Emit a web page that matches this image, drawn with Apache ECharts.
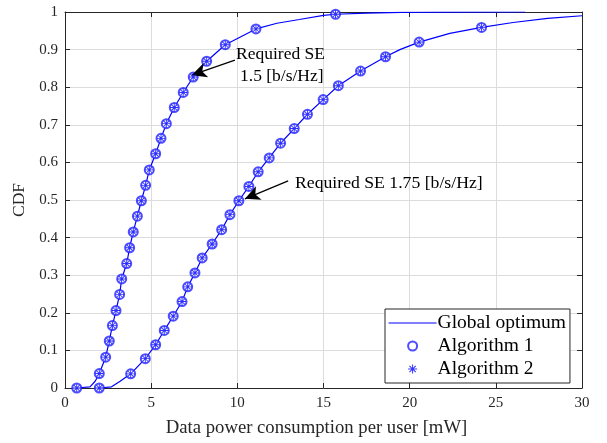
<!DOCTYPE html>
<html>
<head>
<meta charset="utf-8">
<script src="https://cdn.jsdelivr.net/npm/echarts@6/dist/echarts.min.js"></script>
<style>
  html, body { margin: 0; padding: 0; background: #fff; }
  #chart { width: 607px; height: 443px; }
</style>
</head>
<body>
<div id="chart"></div>
<script>
// Axis ticks
const xTicks = [0, 5, 10, 15, 20, 25, 30];
const yTicks = [0, 0.1, 0.2, 0.3, 0.4, 0.5, 0.6, 0.7, 0.8, 0.9, 1];

// Required SE 1.5 b/s/Hz: sampled CDF points (power in mW, CDF)
const se15Power = [0.68, 1.99, 2.36, 2.57, 2.75, 2.96, 3.17, 3.29, 3.58, 3.75, 3.96, 4.2, 4.43,
  4.68, 4.89, 5.26, 5.57, 5.88, 6.34, 6.86, 7.44, 8.22, 9.3, 11.08, 15.7];
const se15Cdf = [0, 0.0385, 0.082, 0.125, 0.166, 0.206, 0.249, 0.29, 0.331, 0.373, 0.415, 0.457, 0.498,
  0.539, 0.58, 0.623, 0.664, 0.703, 0.746, 0.786, 0.827, 0.869, 0.913, 0.955, 0.994];
// extra points of the continuous global-optimum curve (between the sampled points)
const se15LinePower = [1.45, 1.75, 12.3, 13.6, 15.0, 17.5, 19.5, 22, 26.7];
const se15LineCdf = [0.003, 0.018, 0.97, 0.98, 0.991, 0.997, 0.999, 0.9995, 1];

// Required SE 1.75 b/s/Hz
const se175Power = [1.99, 3.81, 4.66, 5.26, 5.76, 6.28, 6.79, 7.12, 7.54, 7.96, 8.54, 9.09, 9.57,
  10.09, 10.67, 11.21, 11.85, 12.51, 13.3, 14.07, 14.98, 15.86, 17.15, 18.6, 20.55, 24.17];
const se175Cdf = [0, 0.0377, 0.078, 0.115, 0.153, 0.191, 0.23, 0.269, 0.306, 0.346, 0.383, 0.421, 0.461,
  0.498, 0.536, 0.575, 0.612, 0.651, 0.69, 0.728, 0.767, 0.804, 0.843, 0.881, 0.92, 0.959];
const se175LinePower = [2.7, 3.2, 19.43, 22.33, 26, 28, 30];
const se175LineCdf = [0.003, 0.018, 0.9, 0.943, 0.972, 0.983, 0.99];

// Annotation arrows: [tail, tip] in data coordinates
const arrow15 = [[9.86, 0.872], [7.35, 0.832]];
const arrow175 = [[12.95, 0.551], [10.44, 0.503]];

const FONT = 'Liberation Serif';
const BLUE = '#0000ff';
const AXIS = '#262626';

function pairs(xs, ys) { return xs.map((x, i) => [x, ys[i]]); }
function curve(px, py, lx, ly) {
  return pairs(px, py).concat(pairs(lx, ly)).sort((a, b) => a[0] - b[0]);
}

// asterisk marker: four thin bars at 0/45/90/135 degrees
function asteriskPath() {
  const L = 1, W = 0.11;
  let d = '';
  [0, 45, 90, 135].forEach(a => {
    const r = a * Math.PI / 180, c = Math.cos(r), s = Math.sin(r);
    const pts = [[-L, -W], [L, -W], [L, W], [-L, W]].map(([x, y]) =>
      [(x * c - y * s).toFixed(3), (x * s + y * c).toFixed(3)]);
    d += 'M' + pts.map(p => p.join(',')).join('L') + 'Z';
  });
  return 'path://' + d;
}
const ASTERISK = asteriskPath();

const markers = pairs(se15Power, se15Cdf).concat(pairs(se175Power, se175Cdf));

const chart = echarts.init(document.getElementById('chart'), null, { renderer: 'canvas' });

const frameAxis = {
  type: 'value',
  axisLine: { show: true, onZero: false, lineStyle: { color: AXIS, width: 1 } },
  axisTick: { show: true, inside: true, length: 5, lineStyle: { color: AXIS } },
  splitLine: { show: false },
  axisLabel: { show: false }
};

chart.setOption({
  animation: false,
  backgroundColor: '#ffffff',
  grid: { left: 65, right: 25, top: 12, bottom: 49, containLabel: false },
  xAxis: [
    {
      type: 'value', min: 0, max: 30, interval: 5, position: 'bottom',
      name: 'Data power consumption per user [mW]', nameLocation: 'middle', nameGap: 31,
      nameTextStyle: { fontFamily: FONT, fontSize: 18.7, color: AXIS, padding: [0, 14, 0, 0] },
      axisLine: { show: true, onZero: false, lineStyle: { color: AXIS, width: 1 } },
      axisTick: { show: true, inside: true, length: 5, lineStyle: { color: AXIS } },
      axisLabel: { fontFamily: FONT, fontSize: 15, color: AXIS, margin: 8,
        formatter: v => xTicks.includes(v) ? String(v) : '' },
      splitLine: { show: true, lineStyle: { color: '#dcdcdc', width: 1 } }
    },
    Object.assign({}, frameAxis, { min: 0, max: 30, interval: 5, position: 'top' })
  ],
  yAxis: [
    {
      type: 'value', min: 0, max: 1, interval: 0.1, position: 'left',
      name: 'CDF', nameLocation: 'middle', nameGap: 36, nameRotate: 90,
      nameTextStyle: { fontFamily: FONT, fontSize: 17.5, color: AXIS },
      axisLine: { show: true, onZero: false, lineStyle: { color: AXIS, width: 1 } },
      axisTick: { show: true, inside: true, length: 5, lineStyle: { color: AXIS } },
      axisLabel: { fontFamily: FONT, fontSize: 15, color: AXIS, margin: 7,
        formatter: v => {
          const t = yTicks.find(k => Math.abs(k - v) < 1e-9);
          return t === undefined ? '' : String(t);
        } },
      splitLine: { show: true, lineStyle: { color: '#dcdcdc', width: 1 } }
    },
    Object.assign({}, frameAxis, { min: 0, max: 1, interval: 0.1, position: 'right' })
  ],
  legend: {
    left: 385, top: 309,
    orient: 'vertical',
    backgroundColor: '#ffffff',
    borderColor: AXIS, borderWidth: 1,
    padding: [4, 4, 4, 3],
    itemWidth: 48, itemHeight: 9, itemGap: 3,
    textStyle: { fontFamily: FONT, fontSize: 19.5, color: '#000', lineHeight: 19, padding: [0, 0, 0, -4] },
    data: [
      { name: 'Global optimum', itemStyle: { opacity: 0 }, lineStyle: { color: BLUE, width: 1.2, opacity: 1 } },
      { name: 'Algorithm 1' },
      { name: 'Algorithm 2' }
    ]
  },
  graphic: [
    { type: 'text', left: 236, top: 45, z: 10, style: { text: 'Required SE', fontFamily: FONT, fontSize: 17.5, fill: '#000' } },
    { type: 'text', left: 240, top: 67, z: 10, style: { text: '1.5 [b/s/Hz]', fontFamily: FONT, fontSize: 17.5, fill: '#000' } },
    { type: 'text', left: 295, top: 174, z: 10, style: { text: 'Required SE 1.75 [b/s/Hz]', fontFamily: FONT, fontSize: 17.7, fill: '#000' } }
  ],
  series: [
    {
      name: 'Global optimum', type: 'line', xAxisIndex: 0, yAxisIndex: 0,
      data: curve(se15Power, se15Cdf, se15LinePower, se15LineCdf),
      showSymbol: false, symbol: 'none', smooth: false, z: 3,
      lineStyle: { color: BLUE, width: 1.2 }, itemStyle: { color: BLUE },
      markLine: {
        silent: true, symbol: ['none', 'arrow'], symbolSize: [11, 15],
        label: { show: false },
        lineStyle: { color: '#000', width: 1.2, type: 'solid' },
        data: [
          [{ coord: arrow15[0] }, { coord: arrow15[1] }],
          [{ coord: arrow175[0] }, { coord: arrow175[1] }]
        ]
      }
    },
    {
      name: 'Global optimum', type: 'line', xAxisIndex: 0, yAxisIndex: 0,
      data: curve(se175Power, se175Cdf, se175LinePower, se175LineCdf),
      showSymbol: false, symbol: 'none', smooth: false, z: 3,
      lineStyle: { color: BLUE, width: 1.2 }, itemStyle: { color: BLUE }
    },
    {
      name: 'Algorithm 1', type: 'scatter', xAxisIndex: 0, yAxisIndex: 0,
      data: markers, symbol: 'emptyCircle', symbolSize: 9, z: 4,
      itemStyle: { color: '#2020ff', borderColor: '#2020ff', borderWidth: 1.1 }
    },
    {
      name: 'Algorithm 2', type: 'scatter', xAxisIndex: 0, yAxisIndex: 0,
      data: markers, symbol: ASTERISK, symbolSize: 8, z: 5,
      itemStyle: { color: BLUE }
    }
  ]
});
</script>
</body>
</html>
